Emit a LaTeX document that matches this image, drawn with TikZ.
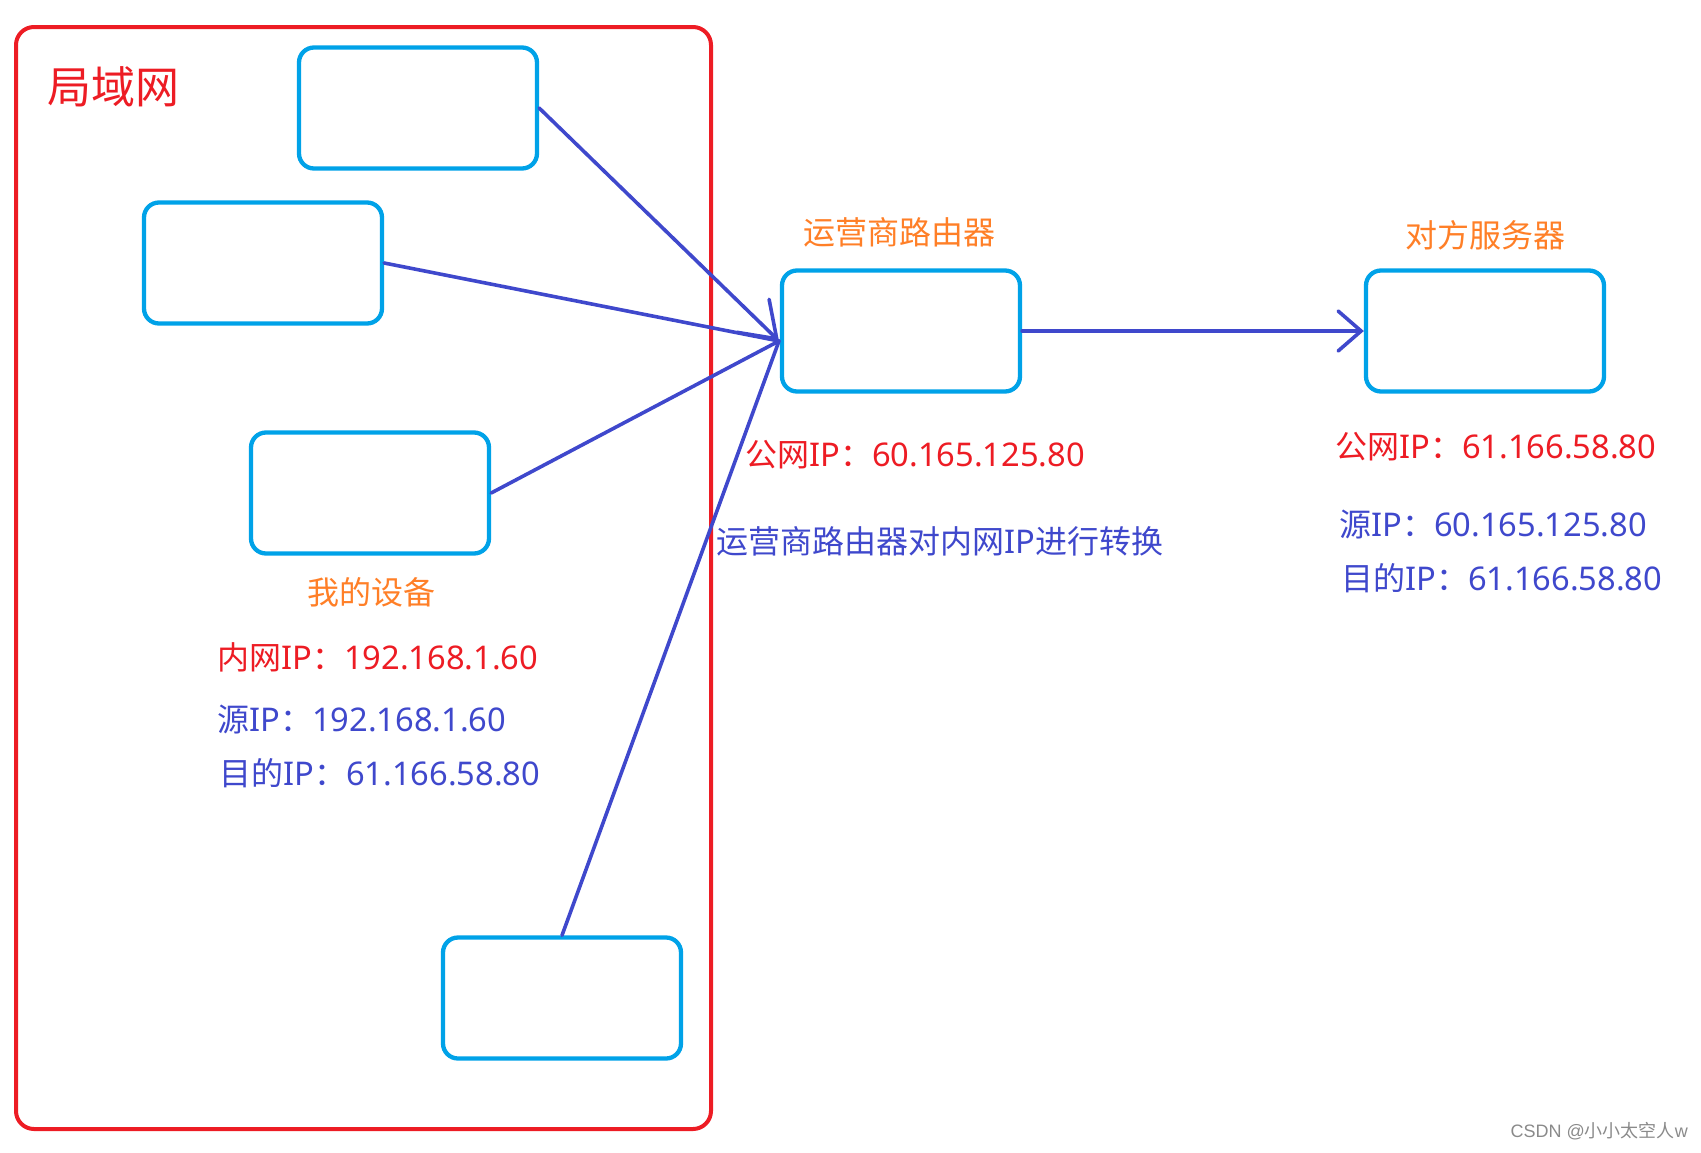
\documentclass[tikz,border=0pt]{standalone}
\usepackage{fontspec}
\newfontfamily\cjk{Noto Sans CJK SC}
\newfontfamily\latfont{Noto Sans}[Scale=1.02]
\newfontfamily\wmfont{Liberation Sans}
\newcommand\latn[1]{{\latfont #1}}
\usetikzlibrary{arrows.meta}
\definecolor{pred}{HTML}{ED1C24}
\definecolor{pcyan}{HTML}{00A2E8}
\definecolor{pblue}{HTML}{3F48CC}
\definecolor{porange}{HTML}{FF7F27}
\definecolor{wmgray}{HTML}{8A8A8A}
\tikzset{
  devbox/.style={draw=pcyan, line width=4.3pt, rounded corners=15pt, minimum width=238pt, minimum height=121pt, inner sep=0pt},
  txt/.style={inner sep=0pt, font=\cjk\fontsize{32pt}{38pt}\selectfont},
  title/.style={txt, text=porange},
  ipred/.style={txt, text=pred},
  ipblue/.style={txt, text=pblue},
  link/.style={draw=pblue, line width=3.6pt, line cap=round},
}
\begin{document}
\begin{tikzpicture}[x=1pt, y=-1pt]
\useasboundingbox (0,0) rectangle (1701,1152);
% LAN frame
\draw[pred, line width=4pt, rounded corners=18pt] (16,27) rectangle (711,1129);
\node[inner sep=0pt, text=pred, font=\cjk\fontsize{44pt}{50pt}\selectfont] (lan) at (113,87) {局域网};
% boxes
\node[devbox] (b1) at (418,108) {};
\node[devbox] (b2) at (263,263) {};
\node[devbox] (b3) at (370,493) {};
\node[devbox] (b4) at (562,998) {};
\node[devbox] (router) at (901,331) {};
\node[devbox] (server) at (1485,331) {};
\coordinate (hub) at (779,341);
% links
\draw[link, -{Straight Barb[length=33pt, width=46pt, line cap=round]}] (b1.east) -- (hub);
\draw[link] (b2.east) -- (hub);
\draw[link] (b3.east) -- (hub);
\draw[link] (b4.north) -- (hub);
\draw[link, -{Straight Barb[length=23pt, width=40pt, line cap=round]}] (router.east) -- (server.west);
% labels
\node[title] (rt) at (899,232) {运营商路由器};
\node[title] (st) at (1485,235) {对方服务器};
\node[title] (mt) at (371,592) {我的设备};
\node[ipred, anchor=west] (rip) at (745,455) {公网\latn{IP}：\latn{60.165.125.80}};
\node[ipblue, anchor=west] (nat) at (716,541) {运营商路由器对内网\latn{IP}进行转换};
\node[ipred, anchor=west] (sip) at (1335,447) {公网\latn{IP}：\latn{61.166.58.80}};
\node[ipblue, anchor=west] (ssrc) at (1339,525) {源\latn{IP}：\latn{60.165.125.80}};
\node[ipblue, anchor=west] (sdst) at (1341,578) {目的\latn{IP}：\latn{61.166.58.80}};
\node[ipred, anchor=west] (mip) at (217,657) {内网\latn{IP}：\latn{192.168.1.60}};
\node[ipblue, anchor=west] (msrc) at (217,720) {源\latn{IP}：\latn{192.168.1.60}};
\node[ipblue, anchor=west] (mdst) at (219,773) {目的\latn{IP}：\latn{61.166.58.80}};
\node[inner sep=0pt, anchor=east, text=wmgray, font=\cjk\fontsize{18pt}{21pt}\selectfont] (wm) at (1688,1131) {{\wmfont CSDN @}小小太空人{\wmfont w}};
\end{tikzpicture}
\end{document}
